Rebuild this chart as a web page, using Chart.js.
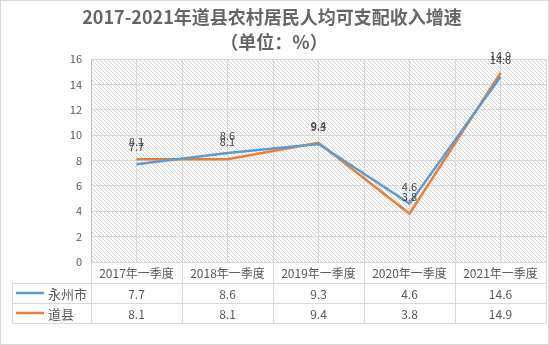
<!DOCTYPE html>
<html lang="zh">
<head>
    <meta charset="UTF-8">
    <title>2017-2021年道县农村居民人均可支配收入增速</title>
    <script src="https://cdn.jsdelivr.net/npm/chart.js"></script>
    <style>
        html, body { margin: 0; padding: 0; background: #fff; }
        #wrap { position: relative; width: 549px; height: 345px; }
    </style>
</head>
<body>
    <div id="wrap"><canvas id="chart" width="549" height="345"></canvas></div>
    <script>
        // data
        const categories = ['2017年一季度', '2018年一季度', '2019年一季度', '2020年一季度', '2021年一季度'];
        const yongzhou = [7.7, 8.6, 9.3, 4.6, 14.6];
        const daoxian = [8.1, 8.1, 9.4, 3.8, 14.9];
        const seriesNames = ['永州市', '道县'];
        const seriesColors = ['#5B9BD5', '#ED7D31'];
        const yTicks = [0, 2, 4, 6, 8, 10, 12, 14, 16];
        const titleLines = ['2017-2021年道县农村居民人均可支配收入增速', '（单位：%）'];

        const textColor = '#595959';
        const gridColor = '#d9d9d9';
        const cjk = '"Noto Sans CJK SC", "Noto Sans", sans-serif';

        // light downward diagonal hatch, like the Excel pattern fill
        function makeHatch() {
            const c = document.createElement('canvas');
            c.width = 4; c.height = 4;
            const g = c.getContext('2d');
            g.fillStyle = '#d4d4d4';
            for (let i = 0; i < 4; i++) g.fillRect(i, i, 1, 1);
            return c;
        }

        const chartDecor = {
            id: 'chartDecor',
            beforeDraw(chart) {
                const { ctx, chartArea: a } = chart;
                ctx.save();
                ctx.fillStyle = ctx.createPattern(makeHatch(), 'repeat');
                ctx.fillRect(a.left, a.top, a.right - a.left, a.bottom - a.top);
                ctx.restore();
            },
            afterDraw(chart) {
                const { ctx, chartArea: a } = chart;
                const xs = chart.scales.x;
                ctx.save();

                // title
                ctx.fillStyle = '#666666';
                ctx.textAlign = 'center';
                ctx.textBaseline = 'middle';
                ctx.font = 'bold 18px ' + cjk;
                ctx.fillText(titleLines[0], 272, 17);
                ctx.fillText(titleLines[1], 274, 42);

                // data labels above the points
                ctx.font = '11px ' + cjk;
                ctx.fillStyle = '#404040';
                chart.data.datasets.forEach((ds, di) => {
                    chart.getDatasetMeta(di).data.forEach((pt, i) => {
                        ctx.fillText(String(ds.data[i]), pt.x, pt.y - 17);
                    });
                });

                // data table
                const rowTop = a.bottom;
                const rowH = [21, 20, 20];
                const colW = xs.getPixelForValue(1) - xs.getPixelForValue(0);
                const leftCol = 12;
                const bounds = categories.map((c, i) => xs.getPixelForValue(i) - colW / 2);
                bounds.push(xs.getPixelForValue(categories.length - 1) + colW / 2);
                const right = bounds[bounds.length - 1];
                const y1 = rowTop + rowH[0];
                const y2 = y1 + rowH[1];
                const y3 = y2 + rowH[2];

                ctx.strokeStyle = gridColor;
                ctx.lineWidth = 1;
                ctx.beginPath();
                // horizontal lines
                ctx.moveTo(a.left, rowTop + 0.5); ctx.lineTo(right, rowTop + 0.5);
                [y1, y2, y3].forEach(y => { ctx.moveTo(leftCol, y + 0.5); ctx.lineTo(right, y + 0.5); });
                // vertical lines
                bounds.forEach(x => { ctx.moveTo(Math.round(x) + 0.5, rowTop); ctx.lineTo(Math.round(x) + 0.5, y3); });
                ctx.moveTo(leftCol + 0.5, y1); ctx.lineTo(leftCol + 0.5, y3);
                ctx.stroke();

                ctx.fillStyle = textColor;
                ctx.font = '12px ' + cjk;
                categories.forEach((c, i) => ctx.fillText(c, xs.getPixelForValue(i), (rowTop + y1) / 2 + 1));
                const rows = [yongzhou, daoxian];
                const rowMid = [(y1 + y2) / 2 + 1, (y2 + y3) / 2 + 1];
                rows.forEach((vals, r) => {
                    vals.forEach((v, i) => ctx.fillText(v.toFixed(1), xs.getPixelForValue(i), rowMid[r]));
                    ctx.strokeStyle = seriesColors[r];
                    ctx.lineWidth = 2.5;
                    ctx.beginPath();
                    ctx.moveTo(16, rowMid[r] - 1); ctx.lineTo(44, rowMid[r] - 1);
                    ctx.stroke();
                    ctx.textAlign = 'left';
                    ctx.font = '13px ' + cjk;
                    ctx.fillText(seriesNames[r], 48, rowMid[r]);
                    ctx.textAlign = 'center';
                    ctx.font = '12px ' + cjk;
                });

                // outer chart border
                ctx.strokeStyle = '#d9d9d9';
                ctx.lineWidth = 1;
                ctx.strokeRect(0.5, 0.5, chart.width - 1, chart.height - 1);
                ctx.restore();
            }
        };

        new Chart(document.getElementById('chart'), {
            type: 'line',
            data: {
                labels: categories,
                datasets: [
                    { label: seriesNames[0], data: yongzhou, borderColor: seriesColors[0], backgroundColor: seriesColors[0], borderWidth: 2.5, pointRadius: 0, tension: 0 },
                    { label: seriesNames[1], data: daoxian, borderColor: seriesColors[1], backgroundColor: seriesColors[1], borderWidth: 2.5, pointRadius: 0, tension: 0 }
                ]
            },
            options: {
                responsive: false,
                animation: false,
                layout: { padding: { left: 0, right: 3, top: 59, bottom: 83 } },
                plugins: { legend: { display: false }, title: { display: false }, tooltip: { enabled: false } },
                scales: {
                    x: {
                        offset: true,
                        grid: { offset: true, color: gridColor, drawTicks: false },
                        border: { color: gridColor },
                        ticks: { display: false },
                        afterFit(s) { s.height = 0; }
                    },
                    x2: {
                        type: 'category',
                        position: 'bottom',
                        offset: true,
                        grid: { offset: false, color: gridColor, drawTicks: false },
                        border: { display: false },
                        ticks: { display: false },
                        afterFit(s) { s.height = 0; }
                    },
                    y: {
                        min: yTicks[0],
                        max: yTicks[yTicks.length - 1],
                        afterBuildTicks(s) { s.ticks = yTicks.map(v => ({ value: v })); },
                        grid: { color: gridColor, drawTicks: false },
                        border: { color: '#bfbfbf' },
                        ticks: { color: textColor, font: { size: 11, family: cjk }, padding: 9 },
                        afterFit(s) { s.width = 91; }
                    }
                }
            },
            plugins: [chartDecor]
        });
    </script>
</body>
</html>
